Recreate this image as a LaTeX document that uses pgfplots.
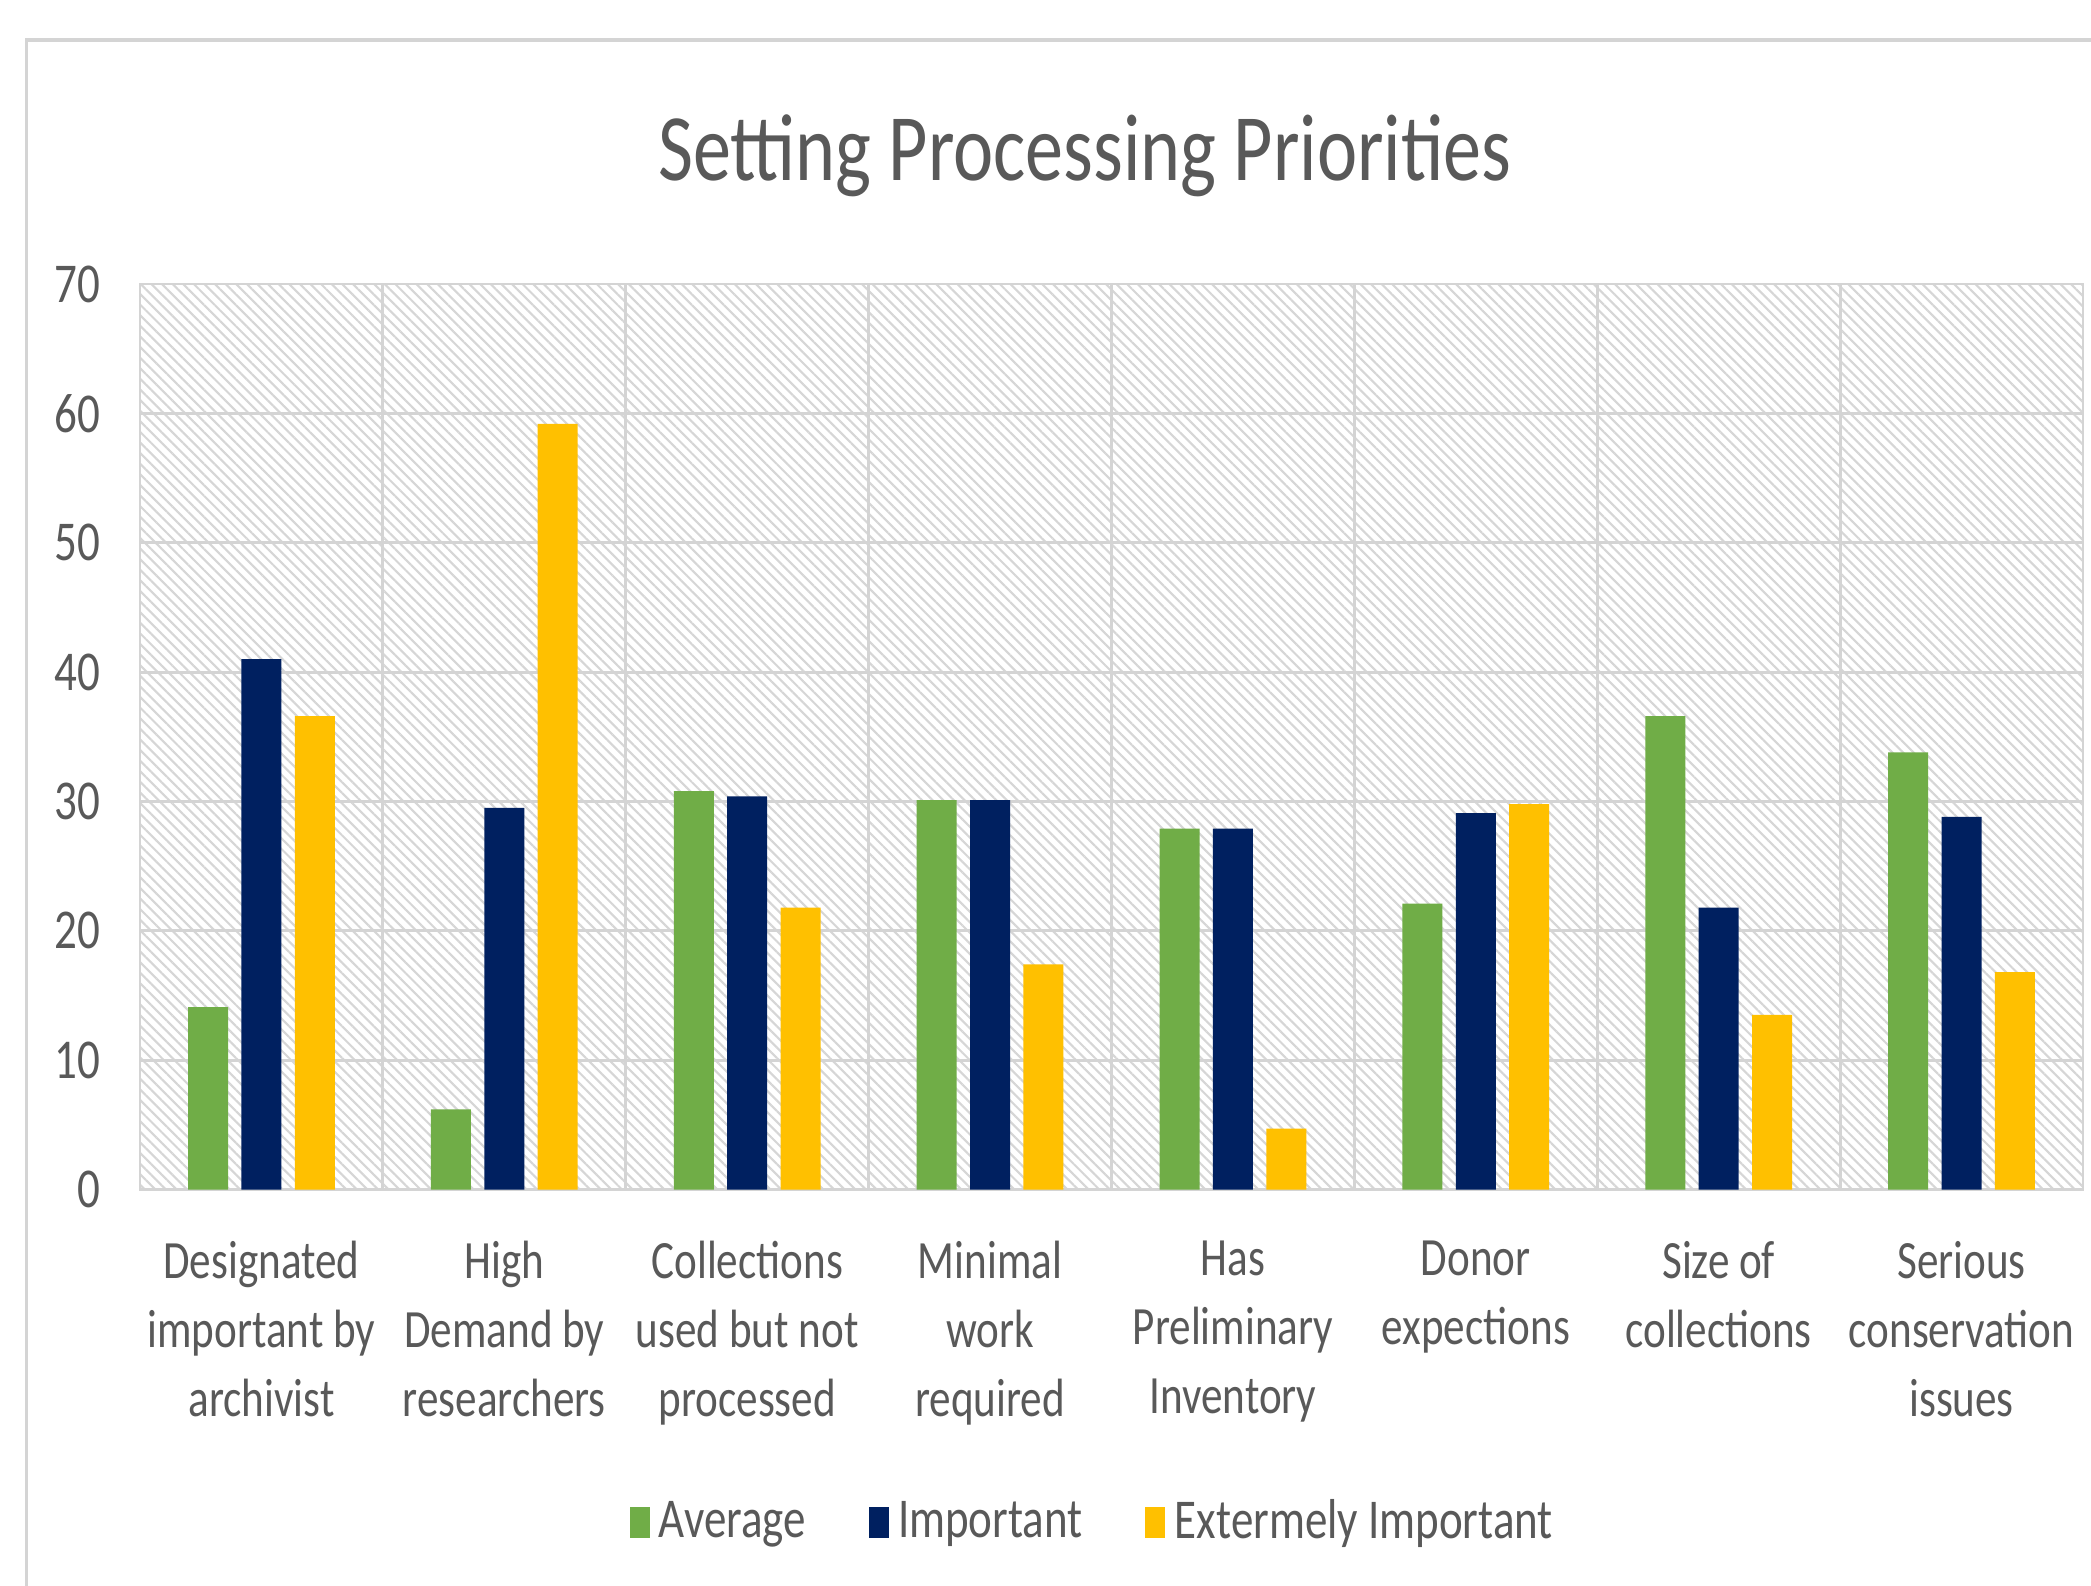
\documentclass[border=0pt]{standalone}
\usepackage{pgfplots}
\pgfplotsset{compat=1.18}
\usetikzlibrary{patterns.meta}
\usepackage{fontspec}
\setmainfont{Carlito}[FakeStretch=0.8]
\definecolor{cgreen}{HTML}{70AD47}
\definecolor{cnavy}{HTML}{002060}
\definecolor{cyellow}{HTML}{FFC000}
\definecolor{gridc}{HTML}{D4D4D4}
\definecolor{hatchc}{HTML}{D6D6D6}
\definecolor{txt}{HTML}{595959}

\begin{document}
\begin{tikzpicture}
\useasboundingbox (0,0) rectangle (156.8mm,118.9mm);
\fill[white] (0,0) rectangle (156.8mm,118.9mm);
\draw[gridc, line width=0.7pt] (2mm,-2mm) -- (2mm,115.9mm) -- (160mm,115.9mm);
\begin{axis}[
  at={(10.5mm,29.7mm)}, anchor=south west,
  width=145.7mm, height=67.9mm, scale only axis,
  ymin=0, ymax=70, xmin=-0.5, xmax=7.5,
  ytick={0,10,...,70},
  xtick={0,...,7},
  minor xtick={0.5,1.5,...,6.5},
  xticklabels={{Designated\\important by\\archivist},{High\\Demand by\\researchers},{Collections\\used but not\\processed},{Minimal\\work\\required},{Has\\Preliminary\\Inventory},{Donor\\expections},{Size of\\collections},{Serious\\conservation\\issues}},
  ymajorgrids, xminorgrids,
  grid style={gridc, line width=0.6pt},
  minor grid style={gridc, line width=0.6pt},
  axis line style={gridc, line width=0.6pt},
  major tick length=0pt, minor tick length=0pt,
  tick style={draw=none},
  axis background/.style={pattern={Lines[angle=-45,distance=1.6pt,line width=0.45pt]}, pattern color=hatchc},
  ybar=1mm, bar width=3mm,
  /pgf/number format/assume math mode=true,
  yticklabel style={font=\fontsize{12}{14}\selectfont, text=txt, inner sep=0pt, anchor=east, xshift=-2.9mm},
  xticklabel style={font=\fontsize{11.5}{14.7}\selectfont, text=txt, inner sep=0pt, anchor=north, yshift=-3.8mm, align=center},
  legend columns=3,
  legend style={at={(0.492,-0.368)}, anchor=center, draw=none, fill=none, font=\fontsize{12}{14}\selectfont, text=txt, /tikz/every even column/.append style={column sep=4mm}},
  legend image code/.code={\fill[#1,draw=none] (0mm,-1.15mm) rectangle (1.5mm,1.15mm);},
]
\addplot[fill=cgreen, draw=none] coordinates {(0,14.1) (1,6.2) (2,30.8) (3,30.1) (4,27.9) (5,22.1) (6,36.6) (7,33.8)};
\addplot[fill=cnavy, draw=none] coordinates {(0,41.0) (1,29.5) (2,30.4) (3,30.1) (4,27.9) (5,29.1) (6,21.8) (7,28.8)};
\addplot[fill=cyellow, draw=none] coordinates {(0,36.6) (1,59.2) (2,21.8) (3,17.4) (4,4.7) (5,29.8) (6,13.5) (7,16.8)};
\legend{Average, Important, Extermely Important}
\end{axis}
\node[anchor=base, text=txt, font=\fontsize{20.3}{24}\selectfont, inner sep=0pt] at (81.35mm,105.35mm) {Setting Processing Priorities};
\end{tikzpicture}
\end{document}
